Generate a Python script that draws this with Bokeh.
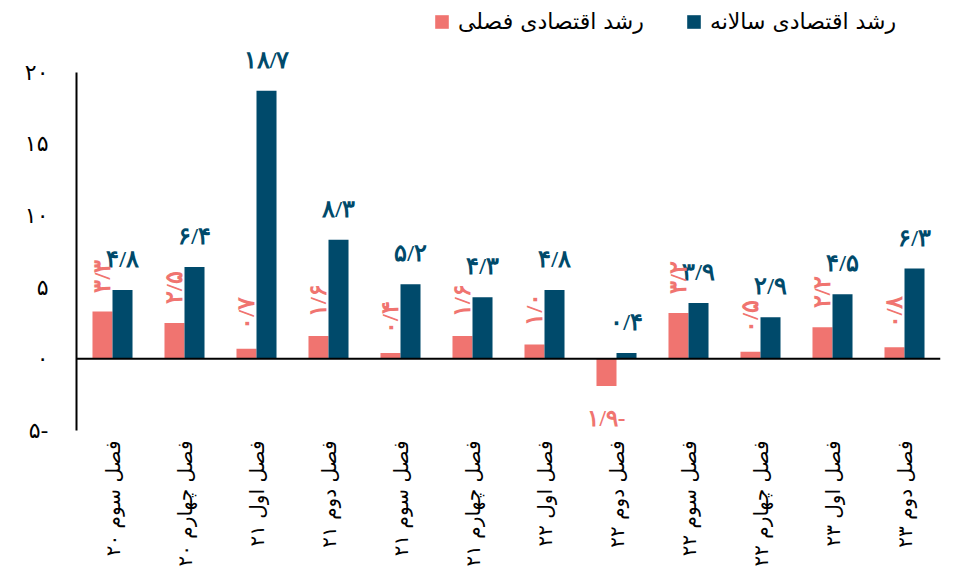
import math
from bokeh.plotting import figure
from bokeh.models import (ColumnDataSource, FactorRange, Range1d, FixedTicker, Span,
                          LabelSet, Legend, LegendItem)
from bokeh.transform import dodge
from bokeh.embed import file_html
from bokeh.resources import INLINE

categories = ["فصل سوم ۲۰", "فصل چهارم ۲۰", "فصل اول ۲۱", "فصل دوم ۲۱",
              "فصل سوم ۲۱", "فصل چهارم ۲۱", "فصل اول ۲۲", "فصل دوم ۲۲",
              "فصل سوم ۲۲", "فصل چهارم ۲۲", "فصل اول ۲۳", "فصل دوم ۲۳"]
quarterly = [3.3, 2.5, 0.7, 1.6, 0.4, 1.6, 1.0, -1.9, 3.2, 0.5, 2.2, 0.8]
annual = [4.8, 6.4, 18.7, 8.3, 5.2, 4.3, 4.8, 0.4, 3.9, 2.9, 4.5, 6.3]
y_ticks = [-5, 0, 5, 10, 15, 20]
y_tick_labels = ["۵-", "۰", "۵", "۱۰", "۱۵", "۲۰"]
series_names = ["رشد اقتصادی فصلی", "رشد اقتصادی سالانه"]

C_Q = "#F07470"
C_A = "#004A6B"
FONT = "DejaVu Sans"

TR = str.maketrans("0123456789.", "۰۱۲۳۴۵۶۷۸۹/")


def fa(v):
    s = f"{abs(v):.1f}".translate(TR)
    return s + ("-" if v < 0 else "")


src = ColumnDataSource(dict(cat=categories, q=quarterly, a=annual,
                            ql=[fa(v) for v in quarterly],
                            al=[fa(v) for v in annual]))
pos_idx = [i for i, v in enumerate(quarterly) if v >= 0]
neg_idx = [i for i, v in enumerate(quarterly) if v < 0]
src_qpos = ColumnDataSource(dict(cat=[categories[i] for i in pos_idx],
                                 q=[quarterly[i] for i in pos_idx],
                                 ql=[fa(quarterly[i]) for i in pos_idx]))
src_qneg = ColumnDataSource(dict(cat=[categories[i] for i in neg_idx],
                                 q=[quarterly[i] for i in neg_idx],
                                 ql=[fa(quarterly[i]) for i in neg_idx]))

p = figure(width=945, height=570, x_range=FactorRange(*categories),
           y_range=Range1d(-5, 25), output_backend="svg", toolbar_location=None,
           min_border_left=76, min_border_right=5, min_border_top=0,
           min_border_bottom=140)
p.outline_line_color = None
p.xgrid.visible = False
p.ygrid.visible = False

off = 0.139
w = 0.278
rq = p.vbar(x=dodge("cat", -off, range=p.x_range), top="q", width=w, source=src,
            fill_color=C_Q, line_color=None)
ra = p.vbar(x=dodge("cat", off, range=p.x_range), top="a", width=w, source=src,
            fill_color=C_A, line_color=None)

p.add_layout(Span(location=0, dimension="width", line_color="black", line_width=2))

# value labels
la = LabelSet(x=dodge("cat", off, range=p.x_range), y="a", text="al", source=src,
              text_align="center", text_baseline="bottom", y_offset=18,
              text_font=FONT, text_font_style="bold", text_font_size="24px",
              text_color=C_A)
lqp = LabelSet(x=dodge("cat", -off, range=p.x_range), y="q", text="ql", source=src_qpos,
               angle=math.pi / 2, text_align="left", text_baseline="middle", y_offset=19,
               text_font=FONT, text_font_style="bold", text_font_size="24px",
               text_color=C_Q)
lqn = LabelSet(x=dodge("cat", -off, range=p.x_range), y="q", text="ql", source=src_qneg,
               text_align="center", text_baseline="top", y_offset=-20,
               text_font=FONT, text_font_style="bold", text_font_size="23px",
               text_color=C_Q)
p.add_layout(la)
p.add_layout(lqp)
p.add_layout(lqn)

# axes
p.yaxis.ticker = FixedTicker(ticks=y_ticks)
p.yaxis.bounds = (-5, 20)
p.yaxis.major_label_overrides = {t: l for t, l in zip(y_ticks, y_tick_labels)}
p.yaxis.major_tick_line_color = None
p.yaxis.minor_tick_line_color = None
p.yaxis.axis_line_color = "black"
p.yaxis.axis_line_width = 2
p.yaxis.major_label_standoff = 22
p.yaxis.major_label_text_font = FONT
p.yaxis.major_label_text_font_size = "22px"
p.yaxis.major_label_text_color = "black"

p.xaxis.axis_line_color = None
p.xaxis.major_tick_line_color = None
p.xaxis.minor_tick_line_color = None
p.xaxis.major_label_orientation = math.pi / 2
p.xaxis.major_label_standoff = 4
p.xaxis.major_label_text_font = FONT
p.xaxis.major_label_text_font_size = "20px"
p.xaxis.major_label_text_color = "black"

legend = Legend(items=[LegendItem(label=series_names[0], renderers=[rq]),
                       LegendItem(label=series_names[1], renderers=[ra])],
                orientation="horizontal", location=(357, 396),
                glyph_width=17, glyph_height=17, label_standoff=8, spacing=41,
                padding=0, margin=0, border_line_color=None,
                background_fill_alpha=0,
                label_text_font=FONT, label_text_font_size="22px",
                label_text_color="black")
p.add_layout(legend, "center")

open("out.html", "w").write(file_html(p, INLINE))
